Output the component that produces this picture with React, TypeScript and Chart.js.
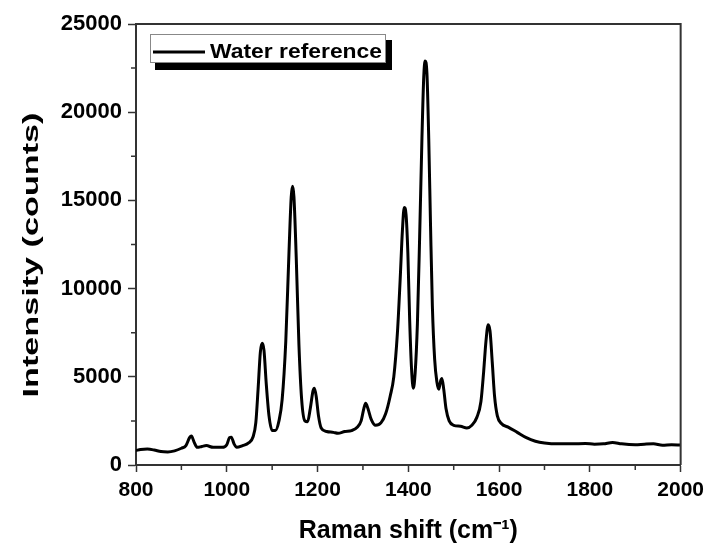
import React, { useEffect, useRef } from "react";
import { Chart, registerables } from "chart.js";

Chart.register(...registerables);

// Raman shift (cm^-1)
const ramanShift: number[] = [
  800, 810, 825, 840, 855, 870, 885, 900, 910, 918, 922, 928, 935, 945, 955, 970, 990,
  1000, 1006, 1010, 1016, 1022, 1035, 1048, 1058, 1064, 1069, 1074, 1078, 1082, 1087, 1093,
  1100, 1107, 1115, 1122, 1130, 1137, 1142, 1145, 1148, 1153, 1159, 1165, 1172, 1178, 1184,
  1190, 1193, 1197, 1202, 1208, 1220, 1235, 1245, 1260, 1275, 1288, 1296, 1302, 1306, 1311,
  1318, 1328, 1340, 1350, 1360, 1368, 1376, 1382, 1387, 1391, 1395, 1399, 1403, 1407, 1411,
  1415, 1420, 1425, 1430, 1434, 1437, 1441, 1445, 1449, 1453, 1458, 1463, 1467, 1471, 1474,
  1478, 1483, 1490, 1500, 1515, 1529, 1540, 1551, 1560, 1566, 1571, 1576, 1580, 1585, 1590,
  1596, 1605, 1620, 1640, 1660, 1680, 1700, 1730, 1760, 1790, 1810, 1830, 1850, 1870, 1900,
  1920, 1940, 1960, 1980, 2000,
];

// Intensity (counts), water reference
const intensity: number[] = [
  820, 880, 900, 850, 760, 740, 800, 950, 1100, 1550, 1650, 1300, 1000, 1050, 1100, 1000, 1000,
  1150, 1550, 1580, 1200, 1000, 1100, 1250, 1600, 2400, 4300, 6400, 6900, 6500, 4600, 2800,
  1950, 1950, 2500, 3700, 7000, 12000, 15200, 15800, 15200, 11800, 6800, 3700, 2500, 2450, 3200,
  4200, 4350, 3900, 2800, 2100, 1900, 1850, 1800, 1900, 1950, 2150, 2500, 3200, 3500, 3200,
  2600, 2250, 2400, 2900, 3900, 5000, 7500, 10500, 13300, 14600, 14200, 12000, 8200, 5500, 4350,
  5200, 8000, 13000, 18500, 22000, 22900, 22200, 18500, 13500, 9000, 6000, 4700, 4300, 4750, 4900,
  4300, 3200, 2500, 2250, 2200, 2100, 2250, 2700, 3600, 5300, 7000, 7950, 7600, 5800, 3900,
  2800, 2350, 2150, 1850, 1550, 1350, 1250, 1200, 1200, 1220, 1180, 1200, 1280, 1200, 1150,
  1180, 1200, 1120, 1150, 1130,
];

const seriesLabel = "Water reference";
const xTitle = "Raman shift (cm⁻¹)";
const yTitle = "Intensity (counts)";
const xMinorTicks: number[] = [900, 1100, 1300, 1500, 1700, 1900];
const yMinorTicks: number[] = [2500, 7500, 12500, 17500, 22500];

const FONT = '"Liberation Sans", Arial, sans-serif';

const decorPlugin = {
  id: "decor",
  beforeDraw(chart: any) {
    const ctx = chart.ctx;
    ctx.save();
    ctx.fillStyle = "#ffffff";
    ctx.fillRect(0, 0, chart.width, chart.height);
    ctx.restore();
  },
  afterDraw(chart: any) {
    const ctx = chart.ctx;
    const { left, right, top, bottom } = chart.chartArea;
    const xs = chart.scales.x;
    const ys = chart.scales.y;
    ctx.save();
    // top & right frame
    ctx.strokeStyle = "#333333";
    ctx.lineWidth = 2;
    ctx.beginPath();
    ctx.moveTo(left, top);
    ctx.lineTo(right, top);
    ctx.lineTo(right, bottom);
    ctx.stroke();
    // minor ticks
    ctx.lineWidth = 1.5;
    ctx.beginPath();
    xMinorTicks.forEach((v) => {
      const px = xs.getPixelForValue(v);
      ctx.moveTo(px, bottom);
      ctx.lineTo(px, bottom + 5);
    });
    yMinorTicks.forEach((v) => {
      const py = ys.getPixelForValue(v);
      ctx.moveTo(left, py);
      ctx.lineTo(left - 5, py);
    });
    ctx.stroke();

    // y title (stretched along reading direction)
    ctx.fillStyle = "#000000";
    ctx.font = `bold 22px ${FONT}`;
    const w = ctx.measureText(yTitle).width;
    ctx.save();
    ctx.translate(32, 255);
    ctx.rotate(-Math.PI / 2);
    ctx.scale(285 / w, 1);
    ctx.textAlign = "center";
    ctx.textBaseline = "middle";
    ctx.fillText(yTitle, 0, 0);
    ctx.restore();

    // legend box with shadow
    ctx.fillStyle = "#000000";
    ctx.fillRect(155, 40, 237, 30);
    ctx.fillStyle = "#ffffff";
    ctx.fillRect(150, 34, 236, 29);
    ctx.strokeStyle = "#888888";
    ctx.lineWidth = 1;
    ctx.strokeRect(150.5, 34.5, 235, 28);
    ctx.strokeStyle = "#000000";
    ctx.lineWidth = 3;
    ctx.beginPath();
    ctx.moveTo(153, 52);
    ctx.lineTo(205, 52);
    ctx.stroke();
    ctx.fillStyle = "#000000";
    ctx.font = `bold 20px ${FONT}`;
    const lw = ctx.measureText(seriesLabel).width;
    ctx.save();
    ctx.translate(210, 52);
    ctx.scale(172 / lw, 1);
    ctx.textAlign = "left";
    ctx.textBaseline = "middle";
    ctx.fillText(seriesLabel, 0, 0);
    ctx.restore();
    ctx.restore();
  },
};

export default function App() {
  const ref = useRef<HTMLCanvasElement | null>(null);
  useEffect(() => {
    if (!ref.current) return;
    const points = ramanShift.map((x, i) => ({ x, y: intensity[i] }));
    const chart = new Chart(ref.current, {
      type: "line",
      data: {
        datasets: [
          {
            label: seriesLabel,
            data: points,
            borderColor: "#000000",
            borderWidth: 3,
            pointRadius: 0,
            cubicInterpolationMode: "monotone",
            fill: false,
          },
        ],
      },
      options: {
        responsive: false,
        animation: false,
        layout: { padding: { top: 24, right: 27, left: 0, bottom: 0 } },
        plugins: { legend: { display: false }, tooltip: { enabled: false } },
        scales: {
          x: {
            type: "linear",
            min: 800,
            max: 2000,
            afterFit: (s: any) => {
              s.height = 84;
            },
            ticks: {
              stepSize: 200,
              color: "#000000",
              padding: 6,
              maxRotation: 0,
              callback: (v: any) => String(v),
              font: { family: FONT, size: 21, weight: "bold" },
            },
            grid: {
              drawOnChartArea: false,
              drawTicks: true,
              tickLength: 7,
              tickWidth: 1.5,
              tickColor: "#333333",
            },
            border: { display: true, color: "#333333", width: 2 },
            title: {
              display: true,
              text: xTitle,
              color: "#000000",
              font: { family: FONT, size: 25, weight: "bold" },
              padding: { top: 0, bottom: 3 },
            },
          },
          y: {
            min: 0,
            max: 25000,
            afterFit: (s: any) => {
              s.width = 136;
            },
            ticks: {
              stepSize: 5000,
              color: "#000000",
              padding: 6,
              callback: (v: any) => String(v),
              font: { family: FONT, size: 22, weight: "bold" },
            },
            grid: {
              drawOnChartArea: false,
              drawTicks: true,
              tickLength: 8,
              tickWidth: 1.5,
              tickColor: "#333333",
            },
            border: { display: true, color: "#333333", width: 2 },
          },
        },
      },
      plugins: [decorPlugin],
    } as any);
    return () => chart.destroy();
  }, []);
  return (
    <div style={{ position: "fixed", left: 0, top: 0, width: 710, height: 549, background: "#fff" }}>
      <canvas ref={ref} width={710} height={549} style={{ display: "block" }} />
    </div>
  );
}
